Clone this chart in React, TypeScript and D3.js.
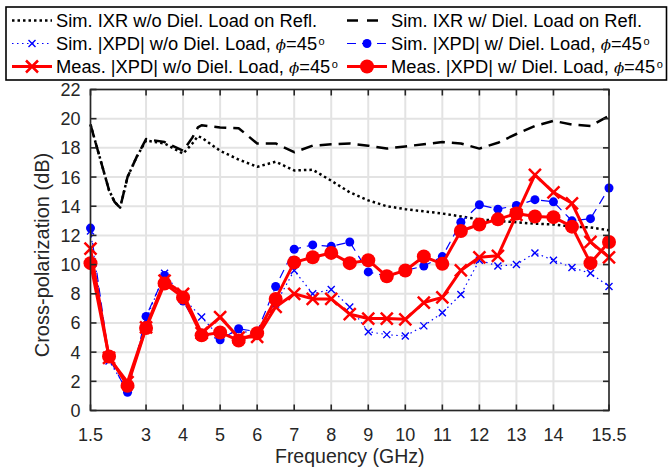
import React from "react";
import * as d3 from "d3";

// ---------- data ----------
const ixrFreq = [1.5, 2.0, 2.15, 2.3, 2.5, 2.75, 3.0, 3.5, 4.0, 4.25, 4.4, 4.5, 5.0, 5.5, 6.0, 6.5, 7.0, 7.5, 8.0, 8.5, 9.0, 9.5, 10.0, 10.5, 11.0, 11.5, 12.0, 12.5, 13.0, 13.5, 14.0, 14.5, 15.0, 15.5];
const ixrWoLoad = [19.6, 15.1, 14.3, 13.9, 16.0, 17.4, 18.5, 18.3, 17.6, 18.3, 18.8, 18.7, 17.8, 17.2, 16.7, 17.05, 16.45, 16.5, 15.75, 14.95, 14.4, 14.0, 13.8, 13.65, 13.5, 13.3, 13.1, 13.0, 12.9, 12.8, 12.75, 12.6, 12.55, 12.35];
const ixrWLoad = [19.6, 15.1, 14.3, 13.9, 16.0, 17.4, 18.6, 18.4, 17.8, 18.7, 19.4, 19.55, 19.4, 19.35, 18.3, 18.3, 17.7, 18.15, 18.25, 18.3, 18.15, 17.95, 18.1, 18.25, 18.4, 18.3, 17.95, 18.35, 18.95, 19.5, 19.85, 19.6, 19.5, 20.2];

const xpdFreq = [1.5, 2, 2.5, 3, 3.5, 4, 4.5, 5, 5.5, 6, 6.5, 7, 7.5, 8, 8.5, 9, 9.5, 10, 10.5, 11, 11.5, 12, 12.5, 13, 13.5, 14, 14.5, 15, 15.5];
const simXpdWo = [12.3, 3.4, 1.4, 6.2, 9.4, 7.7, 6.4, 5.0, 5.5, 5.2, 7.3, 9.6, 8.0, 8.3, 7.1, 5.4, 5.2, 5.1, 5.8, 6.7, 7.95, 10.3, 9.9, 10.0, 10.8, 10.3, 9.8, 9.4, 8.5];
const simXpdW = [12.5, 3.6, 1.25, 6.45, 9.25, 7.5, 5.3, 4.85, 5.6, 5.4, 8.5, 11.05, 11.35, 11.25, 11.55, 9.5, 9.2, 9.6, 9.9, 10.55, 12.9, 14.1, 13.8, 14.05, 14.45, 14.3, 13.0, 13.15, 15.25];
const measXpdWo = [11.1, 3.6, 1.95, 5.7, 8.9, 8.0, 5.3, 6.4, 5.0, 5.05, 7.1, 8.0, 7.65, 7.65, 6.6, 6.3, 6.3, 6.25, 7.4, 7.75, 9.6, 10.5, 10.6, 13.4, 16.15, 14.95, 14.2, 11.55, 10.5];
const measXpdW = [10.1, 3.7, 1.7, 5.65, 8.7, 7.75, 5.15, 5.35, 4.8, 5.3, 7.65, 10.15, 10.5, 10.8, 10.1, 10.3, 9.2, 9.6, 10.55, 10.05, 12.3, 12.75, 13.1, 13.5, 13.3, 13.25, 12.6, 10.1, 11.55];

const xTicks = [1.5, 3, 4, 5, 6, 7, 8, 9, 10, 11, 12, 13, 14, 15.5];
const yTicks = [0, 2, 4, 6, 8, 10, 12, 14, 16, 18, 20, 22];

const legendLabels = [
  "Sim. IXR w/o Diel. Load on Refl.",
  "Sim. IXR w/ Diel. Load on Refl.",
  "Sim. |XPD| w/o Diel. Load, ",
  "Sim. |XPD| w/ Diel. Load, ",
  "Meas. |XPD| w/o Diel. Load, ",
  "Meas. |XPD| w/ Diel. Load, ",
];

// ---------- layout ----------
const W = 669, H = 468;
const M = { left: 90.5, right: 609, top: 89.5, bottom: 410.5 };
const FONT = "'Liberation Sans', Arial, Helvetica, sans-serif";
const AXC = "#262626";

const x = d3.scaleLinear().domain([1.5, 15.5]).range([M.left, M.right]);
const y = d3.scaleLinear().domain([0, 22]).range([M.bottom, M.top]);

const line = d3.line<[number, number]>().x(d => x(d[0])).y(d => y(d[1]));
const pts = (fs: number[], vs: number[]) => fs.map((f, i) => [f, vs[i]] as [number, number]);

function Cross({ cx, cy, s, color, sw }: { cx: number; cy: number; s: number; color: string; sw: number }) {
  return (
    <path d={`M${cx - s},${cy - s}L${cx + s},${cy + s}M${cx - s},${cy + s}L${cx + s},${cy - s}`} stroke={color} strokeWidth={sw} fill="none" />
  );
}

type Style = {
  color: string; width: number; dash?: string; marker?: "x" | "o"; ms: number; msw: number;
};
const styles: Style[] = [
  { color: "#000", width: 2.5, dash: "2.5,3", ms: 0, msw: 0 },
  { color: "#000", width: 2.5, dash: "12,7", ms: 0, msw: 0 },
  { color: "#0000ff", width: 1.2, dash: "1.5,3.5", marker: "x", ms: 3.5, msw: 1.4 },
  { color: "#0000ff", width: 1.2, dash: "9,6", marker: "o", ms: 4.5, msw: 0 },
  { color: "#ff0000", width: 3, marker: "x", ms: 6, msw: 2.5 },
  { color: "#ff0000", width: 3, marker: "o", ms: 7, msw: 0 },
];

function Marker({ st, cx, cy }: { st: Style; cx: number; cy: number }) {
  if (st.marker === "x") return <Cross cx={cx} cy={cy} s={st.ms} color={st.color} sw={st.msw} />;
  if (st.marker === "o") return <circle cx={cx} cy={cy} r={st.ms} fill={st.color} />;
  return null;
}

export default function App() {
  const series: [number, number][][] = [
    pts(ixrFreq, ixrWoLoad),
    pts(ixrFreq, ixrWLoad),
    pts(xpdFreq, simXpdWo),
    pts(xpdFreq, simXpdW),
    pts(xpdFreq, measXpdWo),
    pts(xpdFreq, measXpdW),
  ];

  const legendPos = [
    { lx: 12, tx: 56, cy: 20.5 },
    { lx: 347, tx: 391, cy: 20.5 },
    { lx: 12, tx: 56, cy: 43.5 },
    { lx: 347, tx: 391, cy: 43.5 },
    { lx: 12, tx: 56, cy: 66.5 },
    { lx: 347, tx: 391, cy: 66.5 },
  ];

  return (
    <svg width={W} height={H} style={{ position: "absolute", left: 0, top: 0, background: "#fff" }} fontFamily={FONT}>
      <rect x={0} y={0} width={W} height={H} fill="#fff" />
      {/* grid */}
      <g stroke="#e3e3e3" strokeWidth={2}>
        {xTicks.map(t => <line key={"gx" + t} x1={x(t)} x2={x(t)} y1={M.top} y2={M.bottom} />)}
        {yTicks.map(t => <line key={"gy" + t} x1={M.left} x2={M.right} y1={y(t)} y2={y(t)} />)}
      </g>
      {/* series */}
      <g>
        {series.map((s, i) => (
          <g key={"s" + i}>
            <path d={line(s) || ""} fill="none" stroke={styles[i].color} strokeWidth={styles[i].width}
              strokeDasharray={styles[i].dash} strokeLinejoin="round" />
            {s.map((p, j) => <Marker key={j} st={styles[i]} cx={x(p[0])} cy={y(p[1])} />)}
          </g>
        ))}
      </g>
      {/* axes box */}
      <g stroke={AXC} strokeWidth={1.6} fill="none">
        <rect x={M.left} y={M.top} width={M.right - M.left} height={M.bottom - M.top} />
        {xTicks.map(t => (
          <g key={"tx" + t}>
            <line x1={x(t)} x2={x(t)} y1={M.bottom} y2={M.bottom - 6} />
            <line x1={x(t)} x2={x(t)} y1={M.top} y2={M.top + 6} />
          </g>
        ))}
        {yTicks.map(t => (
          <g key={"ty" + t}>
            <line x1={M.left} x2={M.left + 6} y1={y(t)} y2={y(t)} />
            <line x1={M.right} x2={M.right - 6} y1={y(t)} y2={y(t)} />
          </g>
        ))}
      </g>
      {/* tick labels */}
      <g fill={AXC} fontSize={18}>
        {xTicks.map(t => (
          <text key={"lx" + t} x={x(t)} y={440.5} textAnchor="middle">{String(t)}</text>
        ))}
        {yTicks.map(t => (
          <text key={"ly" + t} x={M.left - 10} y={y(t) + 6.5} textAnchor="end">{String(t)}</text>
        ))}
      </g>
      <text x={(M.left + M.right) / 2} y={462.5} textAnchor="middle" fontSize={19.5} fill={AXC}>Frequency (GHz)</text>
      <text transform={`translate(49,${(M.top + M.bottom) / 2 + 5}) rotate(-90)`} textAnchor="middle" fontSize={20} fill={AXC}>Cross-polarization (dB)</text>
      {/* legend */}
      <rect x={6} y={7} width={660.5} height={73} fill="#fff" stroke="#000" strokeWidth={1.6} />
      {legendPos.map((lp, i) => {
        const st = styles[i];
        return (
          <g key={"lg" + i}>
            <line x1={lp.lx} x2={lp.lx + 40} y1={lp.cy} y2={lp.cy} stroke={st.color} strokeWidth={st.width}
              strokeDasharray={i === 1 ? "11,9" : st.dash} />
            <Marker st={st} cx={lp.lx + 20} cy={lp.cy} />
            <text x={lp.tx} y={lp.cy + 6.5} fontSize={18.3} fill="#000">
              {legendLabels[i]}
              {i >= 2 && (
                <>
                  <tspan fontFamily="'DejaVu Serif', 'Liberation Serif', serif" fontStyle="italic" fontSize={15}>ϕ</tspan>
                  <tspan>=45</tspan>
                  <tspan dx={1.5} dy={-5} fontSize={11}>o</tspan>
                </>
              )}
            </text>
          </g>
        );
      })}
    </svg>
  );
}
